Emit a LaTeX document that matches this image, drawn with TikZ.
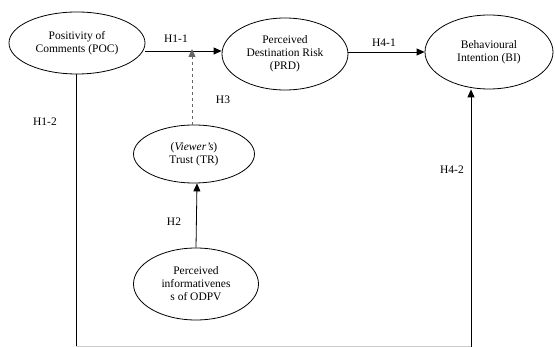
\documentclass[tikz,border=0pt]{standalone}
\usepackage{fontspec}
\setmainfont{Liberation Serif}
\usetikzlibrary{shapes.geometric,arrows.meta}
\begin{document}
\begin{tikzpicture}[x=1pt,y=-1pt,
  ell/.style={draw, ellipse, line width=0.8pt, inner sep=0pt, align=center, font=\fontsize{11.5}{13}\selectfont},
  conn/.style={line width=0.8pt, -{Triangle[length=8pt,width=7pt]}},
  hlab/.style={font=\fontsize{11.5}{13}\selectfont}]
\useasboundingbox (0,0) rectangle (555,347);
\node[ell, minimum width=136pt, minimum height=62pt] (poc) at (77,43) {Positivity of\\Comments (POC)};
\node[ell, minimum width=126pt, minimum height=72pt] (prd) at (285,54) {Perceived\\Destination Risk\\(PRD)};
\node[ell, minimum width=128pt, minimum height=74pt] (bi) at (489,52) {Behavioural\\Intention (BI)};
\node[ell, minimum width=121pt, minimum height=58pt] (tr) at (194,154) {(\textit{Viewer's})\\Trust (TR)};
\node[ell, minimum width=125pt, minimum height=72pt] (odpv) at (196,284) {Perceived\\informativenes\\s of ODPV};
\coordinate (j) at (192,51);
\coordinate (pocb) at (76,347);
\coordinate (bib) at (471,347);
\draw[conn] (poc.east |- j) -- (prd.west |- j);
\draw[conn] (prd.east |- 0,52) -- (bi.west |- 0,52);
\draw[line width=0.8pt, dashed, gray!80!black, -{Triangle[length=8pt,width=7pt]}] (tr.north -| j) -- ([yshift=2pt]j);
\draw[conn] (odpv.north) -- ([xshift=3pt]tr.south);
\draw[line width=0.8pt] (pocb |- poc.south) -- (pocb);
\draw[conn] (bib) -- (bib |- bi.south);
\draw[gray!40, line width=0.6pt] (76,346) -- (471,346);
\node[hlab] (h11) at (176,39) {H1-1};
\node[hlab] (h41) at (384,43) {H4-1};
\node[hlab] (h3) at (223,100) {H3};
\node[hlab] (h12) at (45,122) {H1-2};
\node[hlab] (h2) at (174,222) {H2};
\node[hlab] (h42) at (452,170) {H4-2};
\end{tikzpicture}
\end{document}
